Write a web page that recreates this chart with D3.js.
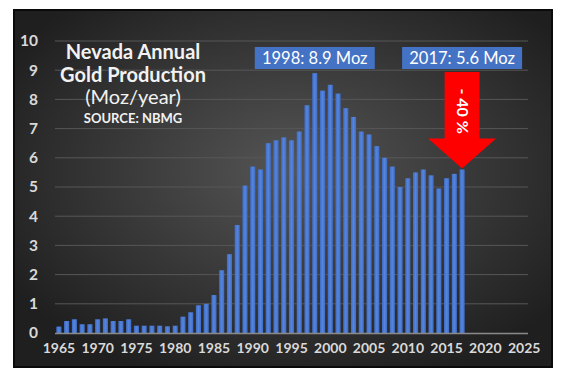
<!DOCTYPE html>
<html>
<head>
<meta charset="utf-8">
<script src="https://cdn.jsdelivr.net/npm/d3@7/dist/d3.min.js"></script>
<style>
  body { margin: 0; background: #fff; }
  svg { display: block; }
  text { font-family: Lato, "Open Sans", sans-serif; }
</style>
</head>
<body>
<div id="chart"></div>
<script>
"use strict"

// Nevada annual gold production, Moz/year
const years = d3.range(1965, 2026);
const prodYears = d3.range(1965, 2018);
const production = [
    0.22, 0.41, 0.47, 0.30, 0.30, 0.47, 0.50, 0.41, 0.41, 0.47,
    0.25, 0.25, 0.25, 0.25, 0.23, 0.25, 0.56, 0.71, 0.95, 1.00,
    1.30, 2.15, 2.70, 3.70, 5.05, 5.70, 5.60, 6.50, 6.60, 6.70,
    6.60, 6.90, 7.80, 8.90, 8.30, 8.50, 8.20, 7.70, 7.40, 6.90,
    6.80, 6.40, 6.00, 5.70, 5.00, 5.30, 5.50, 5.60, 5.40, 4.95,
    5.30, 5.45, 5.60
];
const yTicks = d3.range(0, 11);
const xTickYears = d3.range(1965, 2026, 5);
const titleLines = ["Nevada Annual", "Gold Production", "(Moz/year)", "SOURCE: NBMG"];
const callouts = [
    {year: 1998, label: "1998: 8.9 Moz"},
    {year: 2017, label: "2017: 5.6 Moz"}
];
const dropLabel = "- 40 %";

const width = 583, height = 376;

let svg = d3.select("#chart").append("svg")
    .attr("width", width)
    .attr("height", height);

let defs = svg.append("defs");
let bg = defs.append("radialGradient")
    .attr("id", "bg")
    .attr("cx", "52%").attr("cy", "45%").attr("r", "62%");
bg.append("stop").attr("offset", "0%").attr("stop-color", "#555555");
bg.append("stop").attr("offset", "100%").attr("stop-color", "#1f1f1f");

let barGrad = defs.append("linearGradient")
    .attr("id", "bar")
    .attr("x1", "0%").attr("x2", "100%");
barGrad.append("stop").attr("offset", "0%").attr("stop-color", "#3f6bc4");
barGrad.append("stop").attr("offset", "50%").attr("stop-color", "#5585dc");
barGrad.append("stop").attr("offset", "100%").attr("stop-color", "#3f6bc4");

// Dark frame of the chart
svg.append("rect")
    .attr("x", 14).attr("y", 10)
    .attr("width", 538).attr("height", 357)
    .attr("fill", "url(#bg)")
    .attr("stroke", "#0a0a0a")
    .attr("stroke-width", 2);

let x = d3.scaleBand().domain(years).range([55, 528]).paddingInner(0.34).paddingOuter(0.17);
let y = d3.scaleLinear().domain([0, 10]).range([333, 41]);

// Gridlines
svg.append("g")
    .selectAll("line")
    .data(yTicks.filter(d => d > 0))
    .join("line")
    .attr("x1", 55).attr("x2", 528)
    .attr("y1", d => y(d)).attr("y2", d => y(d))
    .attr("stroke", "#575757")
    .attr("stroke-width", 1);

// Y axis labels
let yAxis = svg.append("g")
    .attr("transform", "translate(42,0)")
    .call(d3.axisLeft(y).tickValues(yTicks).tickSize(0).tickPadding(4));
yAxis.select(".domain").remove();
yAxis.selectAll("text")
    .attr("fill", "#d9d9d9")
    .style("font-size", "15.5px")
    .style("font-weight", "bold")
    .style("font-family", "Lato, sans-serif");

// Bars
svg.append("g")
    .selectAll("rect")
    .data(prodYears)
    .join("rect")
    .attr("x", d => x(d))
    .attr("width", x.bandwidth())
    .attr("y", (d, i) => y(production[i]))
    .attr("height", (d, i) => y(0) - y(production[i]))
    .attr("fill", "url(#bar)");

// X axis
let xAxis = svg.append("g")
    .attr("transform", "translate(0," + y(0) + ")")
    .call(d3.axisBottom(x).tickValues(xTickYears).tickSize(0).tickPadding(10));
xAxis.select(".domain")
    .attr("d", "M55,0.5H528")
    .attr("stroke", "#8a8a8a")
    .attr("stroke-width", 1.5);
xAxis.selectAll("text")
    .attr("fill", "#d9d9d9")
    .style("font-size", "14px")
    .style("font-weight", "bold")
    .style("font-family", "Lato, sans-serif");

// Title block
let title = svg.append("g").attr("text-anchor", "middle").attr("fill", "#f2f2f2");
title.append("text").attr("x", 133).attr("y", 59)
    .style("font-size", "20px").style("font-weight", "bold").text(titleLines[0]);
title.append("text").attr("x", 133).attr("y", 82)
    .style("font-size", "20px").style("font-weight", "bold").text(titleLines[1]);
title.append("text").attr("x", 133).attr("y", 104)
    .style("font-size", "20px").text(titleLines[2]);
title.append("text").attr("x", 133).attr("y", 123)
    .style("font-size", "13px").style("font-weight", "bold").text(titleLines[3]);

// Callout boxes
let boxes = svg.append("g")
    .selectAll("g")
    .data(callouts)
    .join("g")
    .attr("transform", d => "translate(" + (x(d.year) + x.bandwidth() / 2) + ",47)");
boxes.append("rect")
    .attr("x", -60).attr("y", 0)
    .attr("width", 120).attr("height", 22)
    .attr("fill", "#4472c4");
boxes.append("text")
    .attr("x", 0).attr("y", 17)
    .attr("text-anchor", "middle")
    .attr("fill", "#ffffff")
    .style("font-size", "16.5px")
    .text(d => d.label);

// Red drop arrow pointing at the last bar
let tipX = x(2017) + x.bandwidth() / 2;
let tipY = y(production[production.length - 1]) - 1;
let topY = y(8.9) - 1;
let arrow = d3.path();
arrow.moveTo(tipX - 17.5, topY);
arrow.lineTo(tipX + 17.5, topY);
arrow.lineTo(tipX + 17.5, tipY - 30);
arrow.lineTo(tipX + 34, tipY - 30);
arrow.lineTo(tipX, tipY);
arrow.lineTo(tipX - 34, tipY - 30);
arrow.lineTo(tipX - 17.5, tipY - 30);
arrow.closePath();
svg.append("path")
    .attr("d", arrow.toString())
    .attr("fill", "#ff0000");

svg.append("text")
    .attr("transform", "translate(" + (tipX - 5.5) + "," + (topY + 39) + ") rotate(90)")
    .attr("text-anchor", "middle")
    .attr("fill", "#ffffff")
    .style("font-size", "16px")
    .style("font-weight", "bold")
    .text(dropLabel);
</script>
</body>
</html>
